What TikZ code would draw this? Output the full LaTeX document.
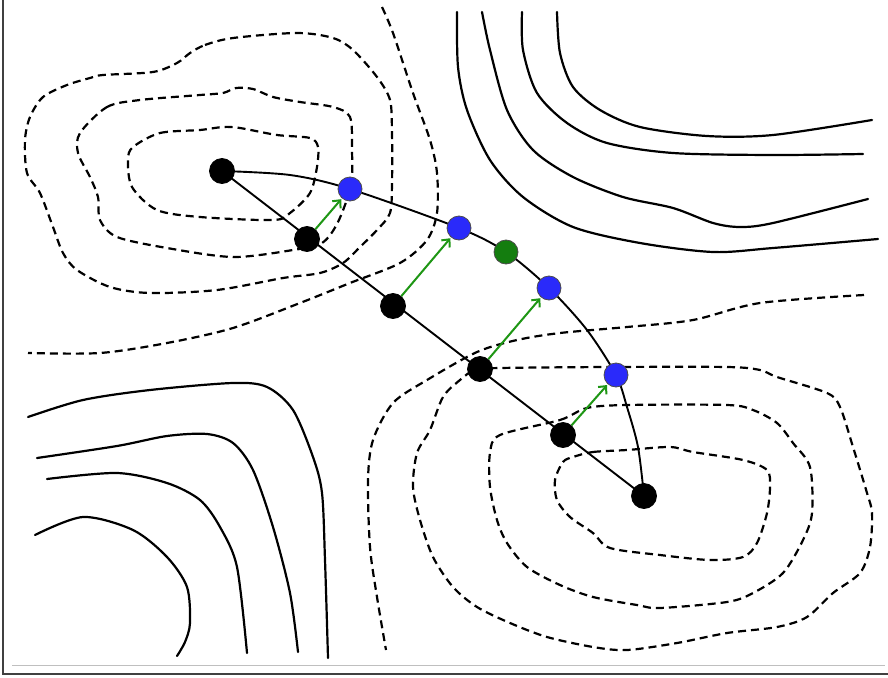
\documentclass[tikz,border=0pt]{standalone}
\usepackage{xcolor}
\usepackage{tikz}
\usetikzlibrary{arrows.meta, backgrounds}
\definecolor{ptblue}{RGB}{42,42,250}
\definecolor{ptgreen}{RGB}{20,125,15}
\definecolor{arrgreen}{RGB}{30,150,20}

\begin{document}
\begin{tikzpicture}[
    x=1pt, y=-1pt,
    pt/.style={draw, circle, minimum size=24pt, inner sep=0pt, line width=0.8pt},
    image/.style={pt, fill=black, minimum size=25pt},
    cand/.style={pt, fill=ptblue, draw=black!70},
    mid/.style={pt, fill=ptgreen, draw=black!70},
    level/.style={line width=2.2pt, line cap=round},
    lowlevel/.style={level, dash pattern=on 8pt off 5pt, line cap=butt},
    link/.style={line width=1.9pt},
    push/.style={-{Straight Barb[length=6pt, width=11pt]}, line width=2pt, arrgreen, shorten >=1pt}
]
\useasboundingbox (0,0) rectangle (888,677);

% frame
\draw[black!75, line width=1.2pt] (3,0) -- (3,674) -- (888,674);
\draw[black!25, line width=1pt] (12,665) -- (885,665);

% images along the straight path
\node[image] (B0) at (222,171) {};
\node[image] (B1) at (307,239) {};
\node[image] (B2) at (393,306) {};
\node[image] (B3) at (480,369) {};
\node[image] (B4) at (563,435) {};
\node[image] (B5) at (644,496) {};

% images along the curved path
\node[cand] (U1) at (350,189) {};
\node[cand] (U2) at (459,228) {};
\node[mid] (G) at (506,252) {};
\node[cand] (U3) at (549,288) {};
\node[cand] (U4) at (616,375) {};

\begin{scope}[on background layer]
% upper left basin
\draw[lowlevel] plot[smooth cycle] coordinates {(133,147) (160,133) (200,130) (223,127) (240,128) (277,135) (310,138) (318,147) (317,167) (310,193) (290,213) (273,220) (200,217) (157,210) (132,187) (128,160)};
\draw[lowlevel] plot[smooth cycle] coordinates {(80,133) (107,107) (140,100) (200,95) (223,93) (236,88) (253,89) (273,97) (300,102) (333,107) (350,117) (352,150) (351,185) (338,222) (322,243) (293,250) (233,257) (167,248) (117,237) (100,220) (98,197) (90,177) (78,153)};
\draw[lowlevel] plot[smooth cycle] coordinates {(190,53) (205,45) (233,38) (297,33) (333,38) (353,50) (377,77) (390,100) (392,133) (392,183) (390,213) (377,230) (360,247) (343,263) (320,273) (283,278) (217,290) (150,293) (110,287) (77,270) (63,253) (53,227) (40,193) (27,173) (25,140) (30,117) (43,97) (67,85) (90,78) (103,75) (153,72) (177,63)};
\draw[lowlevel] plot[smooth] coordinates {(382,7) (393,33) (413,93) (430,140) (437,173) (437,213) (427,240) (400,263) (350,283) (300,303) (233,328) (167,343) (100,353) (28,353)};

% lower right basin
\draw[lowlevel] plot[smooth cycle] coordinates {(573,457) (593,452) (627,450) (670,447) (693,452) (743,460) (767,470) (770,487) (767,513) (757,543) (743,557) (710,560) (660,555) (610,548) (593,533) (570,517) (557,500) (555,480) (563,462)};
\draw[lowlevel] plot[smooth cycle] coordinates {(500,435) (560,420) (587,408) (627,405) (727,405) (753,410) (777,423) (793,443) (810,467) (812,513) (803,540) (783,573) (753,593) (727,602) (660,608) (637,605) (593,597) (560,585) (527,567) (507,543) (497,520) (490,487) (490,453)};
\draw[lowlevel] plot[smooth cycle] coordinates {(500,368) (610,367) (727,367) (760,370) (777,377) (827,393) (840,407) (853,447) (867,493) (872,513) (870,547) (860,573) (833,593) (807,617) (777,627) (727,633) (677,643) (627,650) (593,647) (547,637) (510,623) (477,607) (453,587) (433,557) (420,520) (413,487) (417,453) (430,430) (443,397) (460,380) (475,370)};
\draw[lowlevel] plot[smooth] coordinates {(864,295) (760,303) (693,320) (627,327) (560,333) (517,340) (477,352) (427,380) (393,403) (373,440) (368,480) (370,547) (377,597) (386,650)};

% upper right hill
\draw[level] plot[smooth] coordinates {(457,12) (458,67) (467,110) (490,160) (523,197) (573,227) (640,243) (713,252) (773,248) (878,239)};
\draw[level] plot[smooth] coordinates {(482,12) (490,50) (507,110) (533,150) (573,177) (623,197) (673,208) (713,223) (740,227) (773,223) (868,199)};
\draw[level] plot[smooth] coordinates {(522,12) (523,50) (537,93) (567,123) (607,143) (673,153) (773,155) (863,154)};
\draw[level] plot[smooth] coordinates {(557,12) (560,53) (573,87) (600,110) (640,127) (707,136) (773,135) (872,120)};

% lower left hill
\draw[level] plot[smooth] coordinates {(28,417) (83,400) (150,390) (233,383) (267,387) (293,410) (313,457) (322,493) (325,560) (328,658)};
\draw[level] plot[smooth] coordinates {(37,458) (117,446) (167,436) (207,434) (233,443) (253,470) (273,527) (290,593) (298,652)};
\draw[level] plot[smooth] coordinates {(47,479) (117,473) (167,483) (200,500) (220,527) (237,567) (247,653)};
\draw[level] plot[smooth] coordinates {(35,535) (83,517) (133,530) (167,557) (187,587) (190,623) (185,642) (177,656)};

% straight and curved paths
\draw[link] (B0.center) -- (B5.center);
\draw[link] plot[smooth] coordinates {(B0) (290,175) (U1) (U2) (G) (U3) (587,330) (U4) (627,407) (638,447) (B5)};
\end{scope}

% steps towards the curved path
\draw[push] (B1) -- (U1);
\draw[push] (B2) -- (U2);
\draw[push] (B3) -- (U3);
\draw[push] (B4) -- (U4);

\end{tikzpicture}
\end{document}
